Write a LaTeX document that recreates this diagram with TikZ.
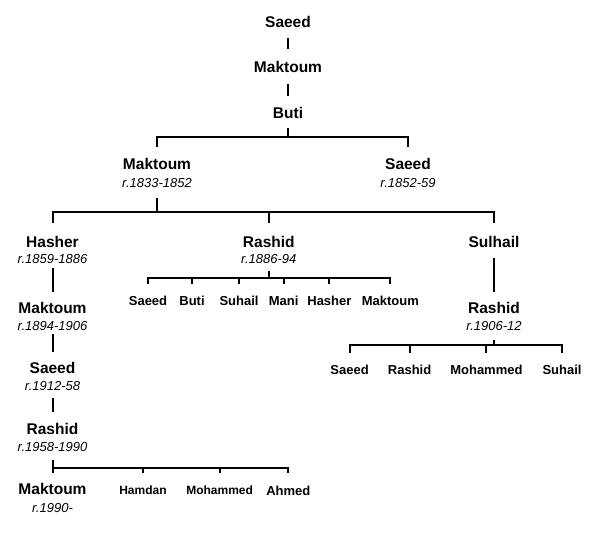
\documentclass[tikz,border=0pt]{standalone}
\usepackage{fontspec}
\setmainfont{Liberation Sans}
\begin{document}
\begin{tikzpicture}[x=1pt,y=-1pt, line width=2pt,
 nm/.style={font=\fontsize{15.5}{18}\selectfont\bfseries, inner sep=0pt, text height=11pt, text depth=0pt},
 dt/.style={font=\fontsize{13}{15}\selectfont\itshape, inner sep=0pt, text height=9pt, text depth=0pt},
 ch/.style={font=\fontsize{13}{15}\selectfont\bfseries, inner sep=0pt, text height=9.5pt, text depth=0pt},
 chs/.style={font=\fontsize{12}{14}\selectfont\bfseries, inner sep=0pt, text height=9pt, text depth=0pt},
 bar/.style={line cap=rect}]
\useasboundingbox (0,0) rectangle (593,535);
% nodes
\node[nm] (s1) at (288,21.7) {Saeed};
\node[nm] (m1) at (288,66.7) {Maktoum};
\node[nm] (b1) at (288,112.7) {Buti};
\node[nm] (m2) at (157,164.3) {Maktoum};
\node[dt] (m2d) at (157,182.7) {r.1833-1852};
\node[nm] (s2) at (408,164.3) {Saeed};
\node[dt] (s2d) at (408,182.7) {r.1852-59};
\node[nm] (h3) at (52.5,241.7) {Hasher};
\node[dt] (h3d) at (52.5,259.3) {r.1859-1886};
\node[nm] (r3) at (268.8,241.7) {Rashid};
\node[dt] (r3d) at (268.8,259.3) {r.1886-94};
\node[nm] (su3) at (494,241.7) {Sulhail};
\node[ch] (c1) at (148,300.7) {Saeed};
\node[ch] (c2) at (192,300.7) {Buti};
\node[ch] (c3) at (239,300.7) {Suhail};
\node[ch] (c4) at (283.7,300.7) {Mani};
\node[ch] (c5) at (329.4,300.7) {Hasher};
\node[ch] (c6) at (390.3,300.7) {Maktoum};
\node[nm] (m4) at (52.5,308.3) {Maktoum};
\node[dt] (m4d) at (52.5,326) {r.1894-1906};
\node[nm] (r4) at (494,308.3) {Rashid};
\node[dt] (r4d) at (494,326) {r.1906-12};
\node[ch] (d1) at (349.6,370) {Saeed};
\node[ch] (d2) at (409.6,370) {Rashid};
\node[ch] (d3) at (486.4,370) {Mohammed};
\node[ch] (d4) at (562,370) {Suhail};
\node[nm] (s5) at (52.5,368.3) {Saeed};
\node[dt] (s5d) at (52.5,385.7) {r.1912-58};
\node[nm] (r6) at (52.5,429.3) {Rashid};
\node[dt] (r6d) at (52.5,447.3) {r.1958-1990};
\node[nm] (m7) at (52.5,489.3) {Maktoum};
\node[dt] (m7d) at (52.5,508.3) {r.1990-};
\node[chs] (ha7) at (143,490) {Hamdan};
\node[chs] (mo7) at (219.6,490) {Mohammed};
\node[ch] (ah7) at (288.3,491) {Ahmed};
% connectors
\draw[shorten <=9.8pt, shorten >=11.2pt] (s1) -- (m1);
\draw[shorten <=10.8pt, shorten >=10.2pt] (m1) -- (b1);
\coordinate (j1) at (288,137.3);
\draw[shorten <=8.8pt] (b1) -- (j1);
\draw[bar] (m2 |- j1) -- (s2 |- j1);
\draw[shorten >=10.8pt] (m2 |- j1) -- (m2);
\draw[shorten >=10.8pt] (s2 |- j1) -- (s2);
\coordinate (j2) at (157,211.7);
\draw[shorten <=9.5pt] (m2d) -- (j2);
\draw[bar] (h3 |- j2) -- (su3 |- j2);
\draw[shorten >=12.2pt] (h3 |- j2) -- (h3);
\draw[shorten >=12.2pt] (r3 |- j2) -- (r3);
\draw[shorten >=12.2pt] (su3 |- j2) -- (su3);
\draw[shorten <=2.9pt, shorten >=9.5pt] (h3d) -- (m4);
\draw[shorten <=2.8pt, shorten >=9.5pt] (m4d) -- (s5);
\draw[shorten <=6.5pt, shorten >=10.5pt] (s5d) -- (r6);
\coordinate (j3) at (52.5,467.7);
\draw[shorten <=7.5pt] (r6d) -- (j3);
\draw[bar] (m7 |- j3) -- (ah7 |- j3);
\draw[shorten >=9.8pt] (m7 |- j3) -- (m7);
\draw[shorten >=11.5pt] (ha7 |- j3) -- (ha7);
\draw[shorten >=11.5pt] (mo7 |- j3) -- (mo7);
\draw[shorten >=12.25pt] (ah7 |- j3) -- (ah7);
\coordinate (j4) at (268.8,278.3);
\draw[shorten <=6.2pt] (r3d) -- (j4);
\draw[bar] (c1 |- j4) -- (c6 |- j4);
\foreach \c in {c1,c2,c3,c4,c5,c6} \draw[shorten >=11pt] (\c |- j4) -- (\c);
\draw[shorten <=9.5pt, shorten >=10.1pt] (su3) -- (r4);
\coordinate (j5) at (494,345.3);
\draw[shorten <=8.8pt] (r4d) -- (j5);
\draw[bar] (d1 |- j5) -- (d4 |- j5);
\foreach \c in {d1,d2,d3,d4} \draw[shorten >=11.25pt] (\c |- j5) -- (\c);
\end{tikzpicture}
\end{document}
